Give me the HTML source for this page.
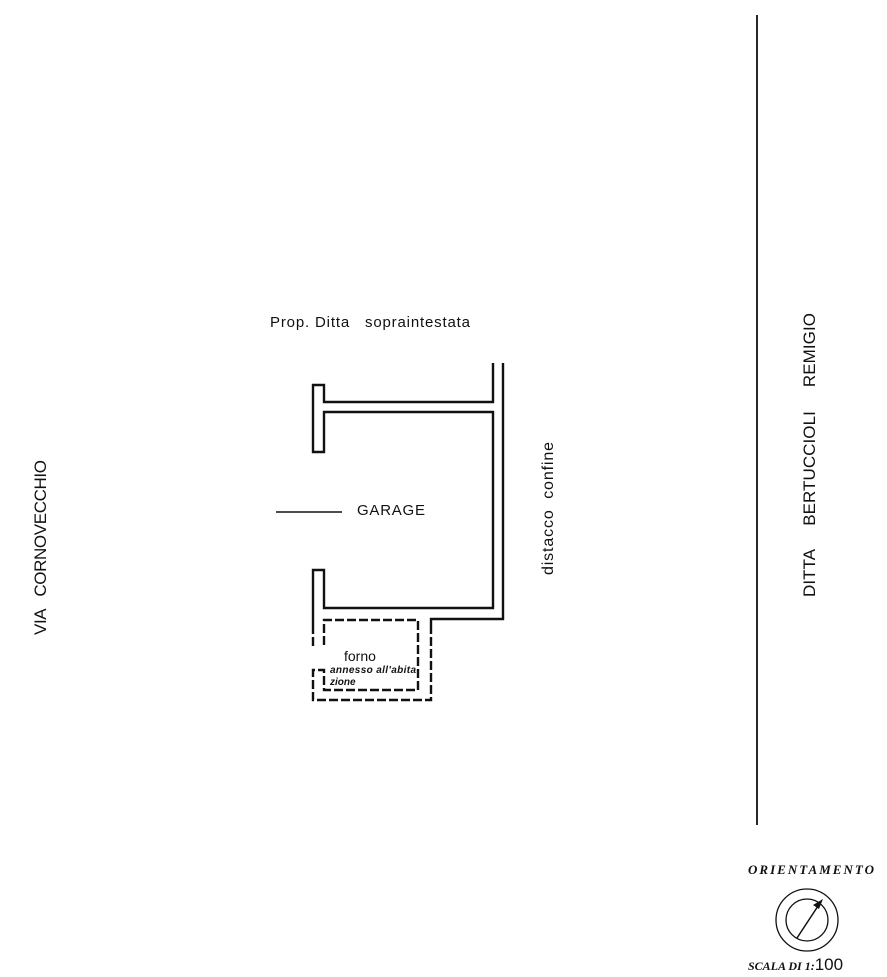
<!DOCTYPE html>
<html><head><meta charset="utf-8"><style>
html,body{margin:0;padding:0;background:#fff;}
svg{display:block;}
text{font-family:"Liberation Sans",sans-serif;fill:#111;}
</style></head><body>
<svg width="887" height="977" viewBox="0 0 887 977" xmlns="http://www.w3.org/2000/svg">
<g fill="none" stroke="#111" stroke-width="2.4" stroke-linejoin="miter">
<path d="M493,363 V402 H324 V385 H313 V452 H324 V412 H493 V608 H324 V570 H313 V625"/>
<path d="M503,363 V619 H431 V625"/>
<g stroke-dasharray="9,3">
<path d="M313,625 V648"/>
<path d="M431,625 V700 H313 V670 H324 V690 H418 V620 H324 V645"/>
</g>
<line x1="757" y1="15" x2="757" y2="825" stroke-width="1.8"/>
<line x1="276" y1="512" x2="342" y2="512" stroke-width="1.4"/>
<circle cx="807" cy="920" r="31" stroke-width="1.3"/>
<circle cx="807" cy="920" r="21" stroke-width="1.3"/>
<line x1="797" y1="938" x2="820" y2="903" stroke-width="1.5"/>
</g>
<polygon points="823,899 813,905 819,909" fill="#111"/>
<text x="270" y="327" font-size="15" textLength="200" xml:space="preserve">Prop. Ditta   sopraintestata</text>
<text x="357" y="515" font-size="15" textLength="68">GARAGE</text>
<text transform="translate(553,575) rotate(-90)" font-size="16" textLength="133" xml:space="preserve">distacco  confine</text>
<text transform="translate(46,635) rotate(-90)" font-size="17" textLength="175" xml:space="preserve">VIA   CORNOVECCHIO</text>
<text transform="translate(815,597) rotate(-90)" font-size="17" textLength="284" xml:space="preserve">DITTA     BERTUCCIOLI     REMIGIO</text>
<text x="344" y="661" font-size="14">forno</text>
<text x="330" y="673" font-size="10" font-style="italic" font-weight="bold" textLength="86">annesso all'abita</text>
<text x="330" y="685" font-size="10" font-style="italic" font-weight="bold">zione</text>
<text x="748" y="874" font-size="13" font-style="italic" font-weight="bold" style="font-family:'Liberation Serif',serif" textLength="126">ORIENTAMENTO</text>
<text x="748" y="970" font-size="12" font-style="italic" font-weight="bold" style="font-family:'Liberation Serif',serif">SCALA DI 1:<tspan font-size="17" font-style="normal" font-weight="normal" style="font-family:'Liberation Sans',sans-serif">100</tspan></text>
</svg>
</body></html>
